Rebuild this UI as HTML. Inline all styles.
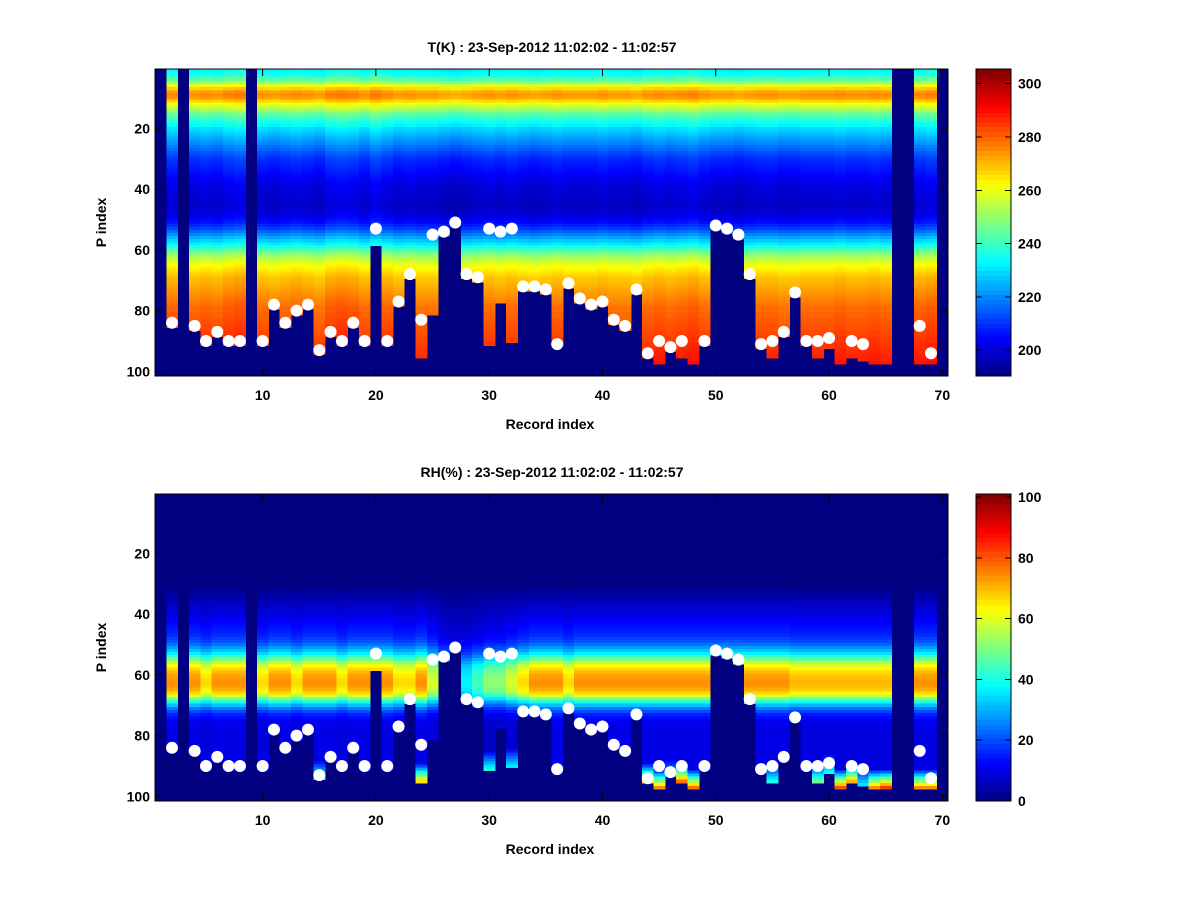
<!DOCTYPE html>
<html><head><meta charset="utf-8">
<style>
body{margin:0;background:#fff;}
svg{display:block;font-family:"Liberation Sans",sans-serif;}
text{font-weight:bold;font-size:14px;fill:#000;}
</style></head>
<body>
<svg id="fig" width="1200" height="900" viewBox="0 0 1200 900" xmlns="http://www.w3.org/2000/svg">
<rect width="1200" height="900" fill="#fff"/>
</svg>
<script>
// ---- data ----
const records = Array.from({length:70},(_,i)=>i+1);
const surfaceP = [null,84,null,85,90,87,90,90,null,90,
  78,84,80,78,93,87,90,84,90,53,
  90,77,68,83,55,54,51,68,69,53,
  54,53,72,72,73,91,71,76,78,77,
  83,85,73,94,90,92,90,null,90,52,
  53,55,68,91,90,87,74,90,90,89,
  null,90,91,null,null,null,null,85,94,null];
const dataBottom = [0,85,0,86,91,88,91,91,0,91,
  79,85,81,79,94,88,91,85,91,58,
  91,78,69,95,81,55,52,69,70,91,
  77,90,73,73,74,91,72,77,79,78,
  84,86,74,95,97,93,95,97,91,53,
  54,56,69,92,95,88,75,91,95,92,
  97,95,96,97,97,0,0,97,97,0];
const tProfile = [232,234,237,242,250,258,266,272,274,272,
  266,260,255,250,245,241,238,235,232,229,
  227,225,223,221,219,217,215,213,211,209,
  208,207,206,205,204,203,202,201,200,200,
  199,199,198,198,198,198,199,200,201,203,
  205,208,211,215,219,223,227,231,236,241,
  246,250,254,257,260,262,264,266,268,269,
  270,271,272,273,274,275,276,277,278,278,
  279,279,280,280,281,281,282,282,283,283,
  284,284,285,285,286,286,287,287,288,288,289];
const tOffset = [0,2,0,1,2,1,3,4,0,1,
  0,1,2,1,0,3,4,3,1,4,
  2,0,1,0,0,-1,-2,-1,0,1,
  0,1,0,-1,0,1,0,0,0,1,
  0,0,-1,1,2,1,2,3,1,0,
  0,-1,0,1,1,0,0,1,1,1,
  2,1,1,2,1,0,0,2,3,0];
const rhProfile = [0,0,0,0,0,0,0,0,0,0,
  0,0,0,0,0,0,0,0,0,0,
  0,0,0,0,0,0,0,0,0,0,
  1,2,3,4,5,6,7,8,9,10,
  11,12,13,14,15,16,17,19,21,24,
  28,32,37,43,50,57,63,67,70,72,
  73,74,74,73,71,67,60,50,40,32,
  25,20,16,14,12,11,10,10,10,10,
  10,10,10,10,10,10,10,10,10,10,
  10,10,10,10,10,10,10,10,10,10,10];
const rhScale = [1,1.0,1,1.0,0.9,1.0,1.0,1.0,1,0.9,
  1.0,1.0,0.9,1.0,1.0,1.0,0.9,1.0,1.0,1.0,
  1.0,0.9,0.9,1.0,0.8,0.6,0.5,0.5,0.6,0.7,
  0.7,0.8,0.9,1.0,1.0,1.0,0.9,1.0,1.0,1.0,
  1.0,1.0,1.0,1.0,1.0,1.0,1.0,1.0,1.0,1,
  1,1,1.0,1.0,1.0,1.0,0.95,0.95,0.95,0.95,
  0.95,0.95,0.95,0.95,0.95,1,1,1.0,1.0,1];
const rhSurface = [0,12,0,12,12,12,12,12,0,12,
  12,12,12,12,45,12,12,12,12,10,
  12,12,12,75,10,10,10,10,10,45,
  10,40,10,10,10,12,10,10,10,10,
  12,12,10,75,85,30,88,88,12,10,
  10,10,10,12,45,12,10,12,55,45,
  92,80,40,85,95,0,0,85,85,0];
const xTicks = [10,20,30,40,50,60,70];
const yTicks = [20,40,60,80,100];
const tCbTicks = [200,220,240,260,280,300];
const rhCbTicks = [0,20,40,60,80,100];

// ---- drawing ----
const NS="http://www.w3.org/2000/svg";
const svg=document.getElementById('fig');
function el(tag,attrs,parent){const e=document.createElementNS(NS,tag);for(const k in attrs)e.setAttribute(k,attrs[k]);(parent||svg).appendChild(e);return e;}
function jet(v){
  v=Math.max(0,Math.min(1,v));
  const f=(x)=>Math.max(0,Math.min(1,1.5-Math.abs(4*v-x)));
  const r=f(3),g=f(2),b=f(1);
  return `rgb(${Math.round(r*255)},${Math.round(g*255)},${Math.round(b*255)})`;
}
const AX0=155,AX1=948;
const cellW=(AX1-AX0)/70;
function xScale(r){return AX0+(r-1)*cellW;}

function panel(top,name,title,valFn,vmin,vmax,cbTicks){
  const bot=top+307;
  const cellH=(bot-top)/101;
  const yScale=(p)=>top+(p-1)*cellH;
  const g=el('g',{});
  
  
  const bg=el('rect',{x:AX0,y:top,width:AX1-AX0,height:bot-top,fill:jet(0)},g);
  
  
  const cells=el('g',{'shape-rendering':'crispEdges'},g);
  
  
  records.forEach((r,i)=>{
    const b=dataBottom[i];
    for(let p=1;p<=b;p++){
      const v=valFn(i,p-1,b);
      el('rect',{x:xScale(r).toFixed(2),y:yScale(p).toFixed(2),width:(cellW+0.5).toFixed(2),height:(cellH+0.5).toFixed(2),fill:jet((v-vmin)/(vmax-vmin))},cells);
    }
  });
  records.forEach((r,i)=>{
    if(surfaceP[i]==null)return;
    const d=el('circle',{cx:xScale(r)+cellW/2,cy:yScale(surfaceP[i])+cellH/2,r:6,fill:'#fff'},g);
    
    
  });
  const fr=el('rect',{x:AX0,y:top,width:AX1-AX0,height:bot-top,fill:'none',stroke:'#000','stroke-width':1},g);
  
  
  xTicks.forEach(t=>{
    const x=xScale(t)+cellW/2;
    el('line',{x1:x,x2:x,y1:bot,y2:bot-7,stroke:'#000'},g);
    el('line',{x1:x,x2:x,y1:top,y2:top+7,stroke:'#000'},g);
    const tx=el('text',{x:x,y:bot+24,'text-anchor':'middle'},g);tx.textContent=t;
    
    
  });
  yTicks.forEach(t=>{
    const y=yScale(t)+cellH/2;
    el('line',{x1:AX0,x2:AX0+7,y1:y,y2:y,stroke:'#000'},g);
    el('line',{x1:AX1,x2:AX1-7,y1:y,y2:y,stroke:'#000'},g);
    const tx=el('text',{x:AX0-5,y:y+5,'text-anchor':'end'},g);tx.textContent=t;
    
    
  });
  const tt=el('text',{x:552,y:top-17,'text-anchor':'middle','font-size':'15'},g);tt.textContent=title;
  
  
  const xl=el('text',{x:550,y:bot+53,'text-anchor':'middle','font-size':'16'},g);xl.textContent='Record index';
  
  
  const yl=el('text',{x:0,y:0,'text-anchor':'middle','font-size':'16',transform:`translate(106,${(top+bot)/2}) rotate(-90)`},g);yl.textContent='P index';
  
  
  const cb=el('g',{'shape-rendering':'crispEdges'},g);
  
  
  const CX0=976,CX1=1011,N=64;
  for(let k=0;k<N;k++){
    const y0=bot-(k+1)*(bot-top)/N;
    el('rect',{x:CX0,y:y0.toFixed(2),width:CX1-CX0,height:((bot-top)/N+0.6).toFixed(2),fill:jet((k+0.5)/N)},cb);
  }
  el('rect',{x:CX0,y:top,width:CX1-CX0,height:bot-top,fill:'none',stroke:'#000'},cb);
  cbTicks.forEach(t=>{
    const y=bot-(t-vmin)/(vmax-vmin)*(bot-top);
    el('line',{x1:CX0,x2:CX0+6,y1:y,y2:y,stroke:'#000'},cb);
    el('line',{x1:CX1,x2:CX1-6,y1:y,y2:y,stroke:'#000'},cb);
    const tx=el('text',{x:CX1+7,y:y+5},cb);tx.textContent=t;
    
    
  });
}
panel(69,'temperature','T(K) : 23-Sep-2012 11:02:02 - 11:02:57',
  (i,p)=>tProfile[p]+tOffset[i],190.3,305.5,tCbTicks);
panel(494,'humidity','RH(%) : 23-Sep-2012 11:02:02 - 11:02:57',
  (i,p,b)=>{
    if(p>=b-6 && p>75){
      const k=(p-(b-7))/7;
      return rhProfile[p]+(rhSurface[i]-rhProfile[p])*k;
    }
    return Math.min(100,rhProfile[p]*rhScale[i]);
  },0,101,rhCbTicks);
</script>
</body></html>
